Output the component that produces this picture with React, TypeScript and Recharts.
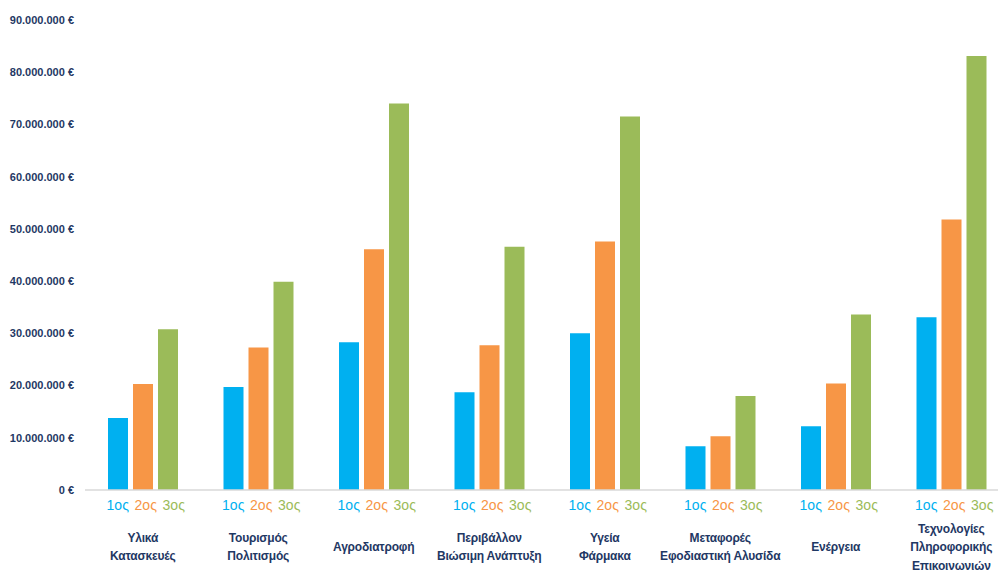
import React from "react";
import { BarChart, Bar, XAxis, YAxis } from "recharts";

const categories = [
  "Υλικά\nΚατασκευές",
  "Τουρισμός\nΠολιτισμός",
  "Αγροδιατροφή",
  "Περιβάλλον\nΒιώσιμη Ανάπτυξη",
  "Υγεία\nΦάρμακα",
  "Μεταφορές\nΕφοδιαστική Αλυσίδα",
  "Ενέργεια",
  "Τεχνολογίες\nΠληροφορικής\nΕπικοινωνιών",
];

const first = [13800000, 19700000, 28300000, 18700000, 30000000, 8400000, 12200000, 33100000];
const second = [20300000, 27300000, 46100000, 27700000, 47600000, 10300000, 20400000, 51800000];
const third = [30800000, 39900000, 74000000, 46600000, 71500000, 18000000, 33600000, 83100000];

const rankLabels = ["1ος", "2ος", "3ος"];
const yTicks = [0, 10000000, 20000000, 30000000, 40000000, 50000000, 60000000, 70000000, 80000000, 90000000];

const COLORS = ["#00B0F0", "#F79646", "#9BBB59"];
const NAVY = "#1F3864";
const FONT = "'Liberation Sans', Arial, sans-serif";

const data = categories.map((name, i) => ({
  name,
  first: first[i],
  second: second[i],
  third: third[i],
}));

function formatEuro(v: number) {
  return String(v).replace(/\B(?=(\d{3})+(?!\d))/g, ".") + " €";
}

function CategoryTick(props: any) {
  const { x, y, payload } = props;
  const lines: string[] = String(payload.value).split("\n");
  const lineH = 18.5;
  const centerY = y + 49;
  const startY = centerY - ((lines.length - 1) * lineH) / 2;
  const rankOffsets = [-25, 3, 31];
  return (
    <g>
      {rankLabels.map((r, i) => (
        <text
          key={r}
          x={x + rankOffsets[i]}
          y={y + 7}
          dy="0.35em"
          textAnchor="middle"
          fill={COLORS[i]}
          fontSize={14}
          fontFamily={FONT}
        >
          {r}
        </text>
      ))}
      {lines.map((line, i) => (
        <text
          key={i}
          x={x}
          y={startY + i * lineH}
          dy="0.35em"
          textAnchor="middle"
          fill={NAVY}
          fontSize={12}
          fontWeight="bold"
          fontFamily={FONT}
          letterSpacing={-0.2}
        >
          {line}
        </text>
      ))}
    </g>
  );
}

export default function App() {
  return (
    <div
      style={{
        position: "fixed",
        left: 0,
        top: 0,
        width: 998,
        height: 574,
        overflow: "hidden",
        background: "#fff",
      }}
    >
      <BarChart
        width={1012}
        height={574}
        data={data}
        margin={{ top: 20, right: 3, left: 0, bottom: 0 }}
        barSize={20}
        barGap={5}
      >
        <XAxis
          dataKey="name"
          height={84}
          interval={0}
          axisLine={{ stroke: "#D9D9D9", strokeWidth: 1.5 }}
          tickLine={false}
          tick={<CategoryTick />}
        />
        <YAxis
          width={85}
          domain={[0, 90000000]}
          ticks={yTicks}
          interval={0}
          axisLine={false}
          tickLine={false}
          tickMargin={5}
          tickFormatter={formatEuro}
          tick={{ fill: NAVY, fontSize: 11, fontWeight: "bold", fontFamily: FONT }}
        />
        <Bar dataKey="first" fill={COLORS[0]} isAnimationActive={false} />
        <Bar dataKey="second" fill={COLORS[1]} isAnimationActive={false} />
        <Bar dataKey="third" fill={COLORS[2]} isAnimationActive={false} />
      </BarChart>
    </div>
  );
}
